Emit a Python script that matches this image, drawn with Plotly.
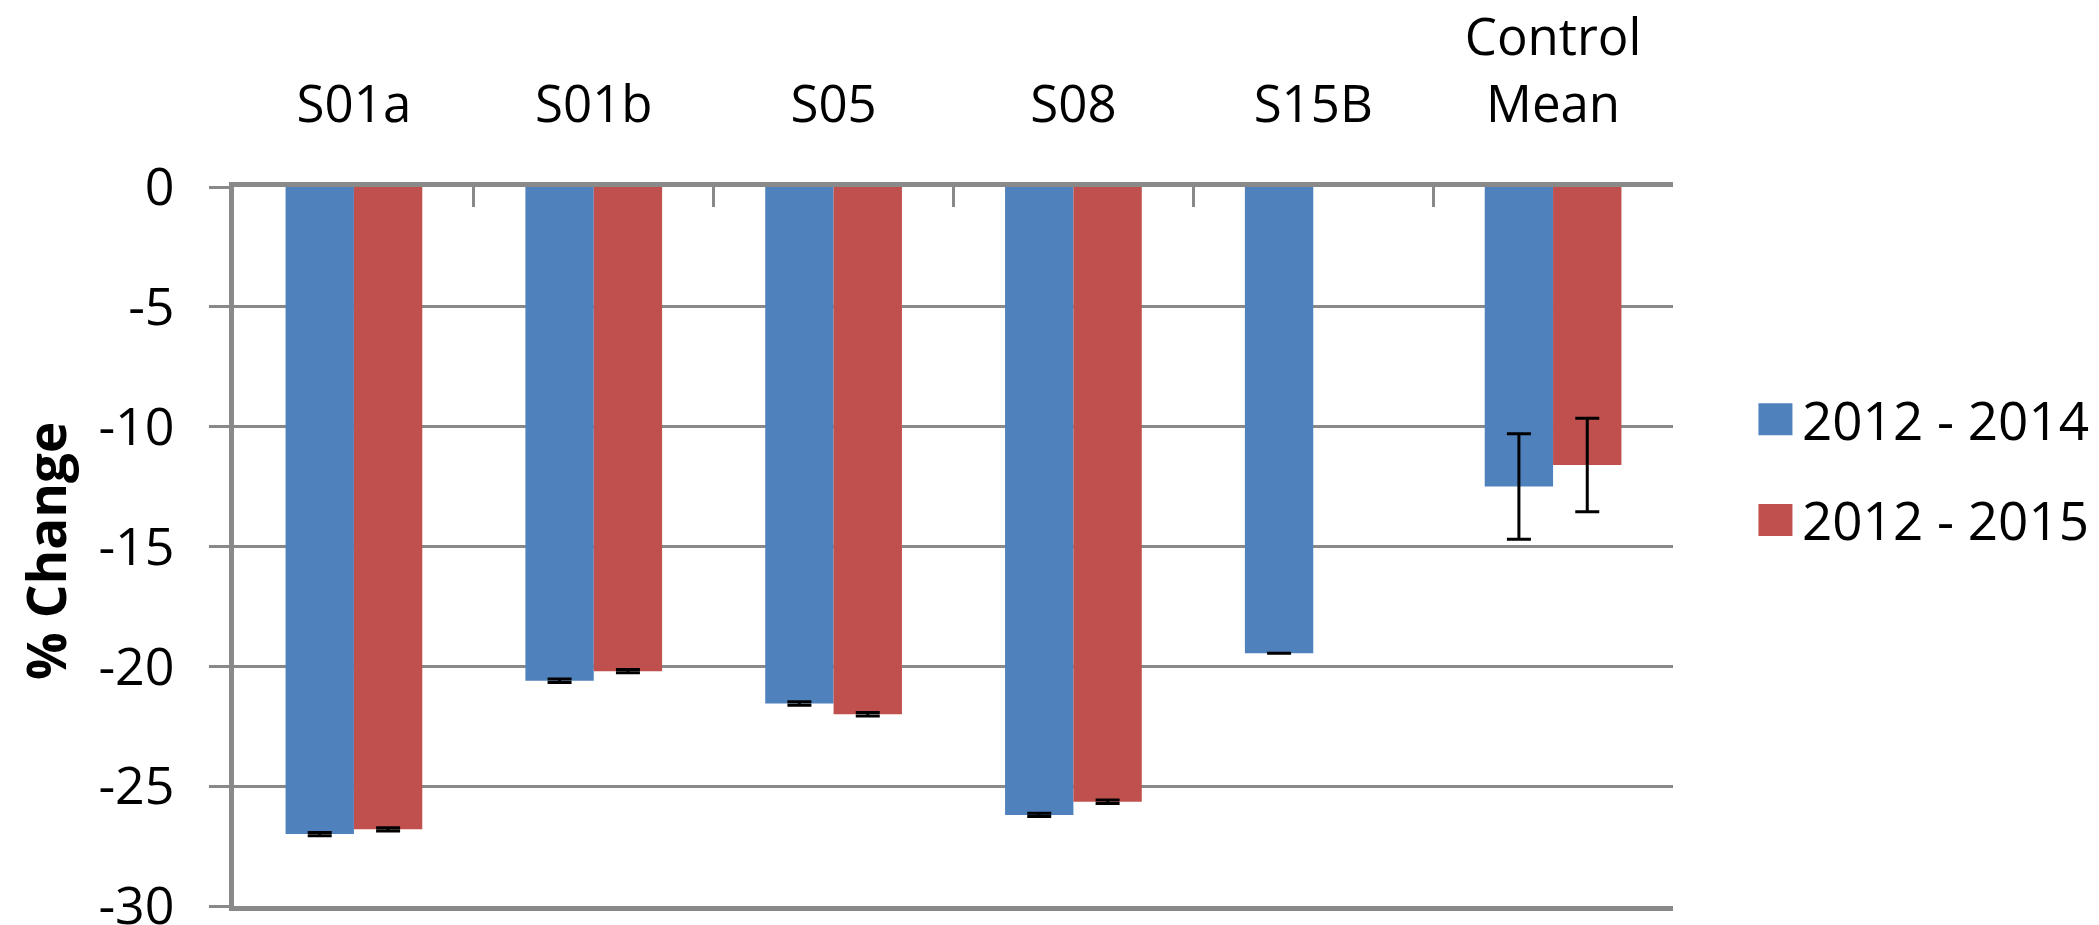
import plotly.graph_objects as go

categories = ["S01a", "S01b", "S05", "S08", "S15B", "Control<br>Mean"]
series_names = ["2012 - 2014", "2012 - 2015"]
change_2014 = [-27.0, -20.6, -21.55, -26.2, -19.45, -12.5]
change_2015 = [-26.8, -20.2, -22.0, -25.65, None, -11.6]
err_2014 = [0.07, 0.07, 0.07, 0.07, None, 2.2]
err_2015 = [0.07, 0.07, 0.07, 0.07, None, 1.95]
y_ticks = [0, -5, -10, -15, -20, -25, -30]
y_title = "% Change"

colors = ["#4F81BD", "#C0504D"]
FONT = "Open Sans, Segoe UI, DejaVu Sans, sans-serif"
GRID = "#898989"

fig = go.Figure()
for name, vals, errs, col in zip(series_names, [change_2014, change_2015],
                                 [err_2014, err_2015], colors):
    fig.add_trace(go.Bar(
        x=categories, y=vals, name=name, marker=dict(color=col, line=dict(width=0)),
        error_y=dict(type="data", array=errs, visible=True, color="black",
                     thickness=3, width=12),
        showlegend=False,
    ))

# manual legend (large square swatches as in the original)
legend_rows_y = [0.677, 0.537]
for name, col, yy in zip(series_names, colors, legend_rows_y):
    fig.add_shape(type="rect", xref="paper", yref="paper",
                  xsizemode="pixel", ysizemode="pixel",
                  xanchor=1.0712, yanchor=yy, x0=-17, x1=17, y0=-16, y1=16,
                  fillcolor=col, line=dict(width=0))
    fig.add_annotation(x=1.0880, y=yy, xref="paper", yref="paper",
                       text=name, showarrow=False, xanchor="left", yanchor="middle",
                       font=dict(family=FONT, size=53, color="#000000"))

# y-axis title
fig.add_annotation(x=-0.1306, y=0.494, xref="paper", yref="paper",
                   text="<b>" + y_title + "</b>", textangle=-90, showarrow=False,
                   xanchor="center", yanchor="middle",
                   font=dict(family=FONT, size=53, color="#000000"))

fig.update_layout(
    width=2099, height=925,
    margin=dict(l=234, r=426, t=187, b=19, autoexpand=False),
    paper_bgcolor="white", plot_bgcolor="white",
    barmode="group", bargap=0.43, bargroupgap=0,
    font=dict(family=FONT, color="#000000"),
)
fig.update_xaxes(
    type="category", side="top", range=[-0.5, 5.5], automargin=False,
    showline=True, linecolor=GRID, linewidth=5, mirror=True,
    ticks="inside", tickson="boundaries", ticklen=20, tickwidth=3, tickcolor=GRID,
    tickfont=dict(family=FONT, size=51, color="#000000"),
    ticklabelstandoff=40, ticklabeloverflow="allow",
    showgrid=False, zeroline=False,
)
fig.update_yaxes(
    range=[-30, 0], tickvals=y_ticks, ticktext=[str(v) for v in y_ticks],
    automargin=False,
    showgrid=True, gridcolor=GRID, gridwidth=3,
    showline=True, linecolor=GRID, linewidth=5,
    ticks="outside", ticklen=20, tickwidth=3, tickcolor=GRID,
    tickfont=dict(family=FONT, size=52, color="#000000"),
    ticklabelstandoff=24, ticklabeloverflow="allow",
    zeroline=False,
)

# remove the browser's default 8px body margin so the figure fills the window
fig.write_html("out.html", config={"displayModeBar": False},
               post_script="document.body.style.margin='0';document.body.style.overflow='hidden';")
